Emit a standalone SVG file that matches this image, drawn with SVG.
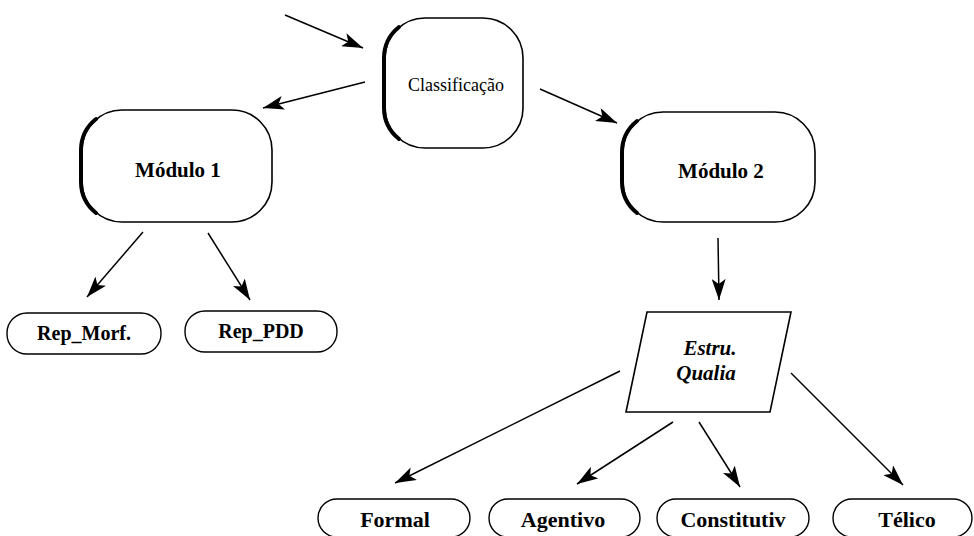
<svg xmlns="http://www.w3.org/2000/svg" width="974" height="536" viewBox="0 0 974 536">
<style>
  .box{fill:#fff;stroke:#000;stroke-width:1.6}
  .thick{fill:none;stroke:#000;stroke-width:4;stroke-linecap:round}
  .pill{fill:#fff;stroke:#000;stroke-width:1.4}
  .lbl{font-family:"Liberation Serif","Times New Roman",serif;font-weight:bold;font-size:21px;text-anchor:middle;fill:#000}
  .reg{font-family:"Liberation Serif","Times New Roman",serif;font-size:18px;text-anchor:middle;fill:#000}
  .it{font-family:"Liberation Serif","Times New Roman",serif;font-weight:bold;font-style:italic;font-size:21px;text-anchor:middle;fill:#000}
  .edge{stroke:#000;stroke-width:1.5;fill:none;marker-end:url(#ah)}
</style>
<defs>
  <marker id="ah" markerWidth="24" markerHeight="14" refX="21" refY="7" orient="auto" markerUnits="userSpaceOnUse">
    <path d="M0,0 L21,7 L0,14 L5,7 z" fill="#000"/>
  </marker>
</defs>
<rect width="974" height="536" fill="#fff"/>

<g id="connectors">
  <line class="edge" x1="285" y1="15" x2="363" y2="48"/>
  <line class="edge" x1="365" y1="82" x2="263" y2="108"/>
  <line class="edge" x1="540" y1="89" x2="617" y2="123"/>
  <line class="edge" x1="143" y1="232" x2="87" y2="297"/>
  <line class="edge" x1="208" y1="233" x2="250" y2="300"/>
  <line class="edge" x1="718" y1="238" x2="719" y2="300"/>
  <line class="edge" x1="620" y1="371" x2="395" y2="483"/>
  <line class="edge" x1="673" y1="422" x2="577" y2="484"/>
  <line class="edge" x1="699" y1="422" x2="740" y2="487"/>
  <line class="edge" x1="791" y1="373" x2="903" y2="485"/>
</g>

<g id="classificacao">
  <rect class="box" x="385" y="18" width="138" height="130" rx="40" ry="40"/>
  <path class="thick" transform="translate(-1,0)" d="M400,27 A40,40 0 0 0 385,58 L385,108 A40,40 0 0 0 400,139"/>
  <text class="reg" x="456" y="91">Classificação</text>
</g>

<g id="modulo1">
  <rect class="box" x="82" y="110" width="190" height="112" rx="40" ry="40"/>
  <path class="thick" transform="translate(-1,0)" d="M97,119 A40,40 0 0 0 82,150 L82,182 A40,40 0 0 0 97,213"/>
  <text class="lbl" x="178" y="177">Módulo 1</text>
</g>

<g id="modulo2">
  <rect class="box" x="623" y="112" width="192" height="110" rx="40" ry="40"/>
  <path class="thick" transform="translate(-1,0)" d="M638,121 A40,40 0 0 0 623,152 L623,182 A40,40 0 0 0 638,213"/>
  <text class="lbl" x="721" y="178">Módulo 2</text>
</g>

<g id="rep_morf">
  <rect class="pill" x="7" y="313" width="154" height="41" rx="20" ry="20"/>
  <text class="lbl" style="font-size:20px" x="84" y="340">Rep_Morf.</text>
</g>

<g id="rep_pdd">
  <rect class="pill" x="185" y="311" width="152" height="41" rx="20" ry="20"/>
  <text class="lbl" style="font-size:20px" x="261" y="338">Rep_PDD</text>
</g>

<g id="estru_qualia">
  <polygon class="box" points="647,312 791,312 770,412 626,412"/>
  <text class="it" x="710" y="355">Estru.</text>
  <text class="it" x="706" y="380">Qualia</text>
</g>

<g id="formal">
  <rect class="pill" x="318" y="499" width="152" height="38" rx="19" ry="19"/>
  <text class="lbl" style="font-size:22px" x="395" y="527">Formal</text>
</g>

<g id="agentivo">
  <rect class="pill" x="489" y="499" width="151" height="38" rx="19" ry="19"/>
  <text class="lbl" style="font-size:22px" x="563" y="527">Agentivo</text>
</g>

<g id="constitutiv">
  <rect class="pill" x="657" y="499" width="152" height="38" rx="19" ry="19"/>
  <text class="lbl" style="font-size:22px" x="733" y="527">Constitutiv</text>
</g>

<g id="telico">
  <rect class="pill" x="833" y="499" width="139" height="38" rx="19" ry="19"/>
  <text class="lbl" style="font-size:22px" x="907" y="527">Télico</text>
</g>
</svg>
